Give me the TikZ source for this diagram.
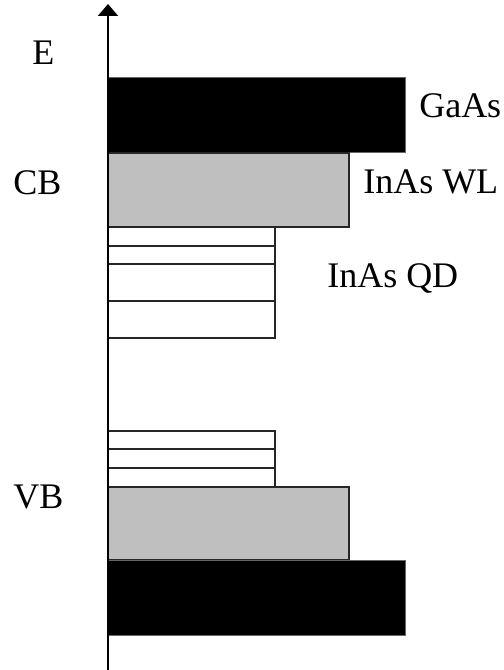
\documentclass[tikz,border=0pt]{standalone}
\usepackage{fontspec}
\setmainfont{Liberation Serif}
\usetikzlibrary{arrows.meta}
\begin{document}
\begin{tikzpicture}[x=0.75pt,y=-0.75pt,
  lbl/.style={anchor=base west,inner sep=0pt,font=\fontsize{27}{32}\selectfont},
  blackbar/.style={fill=black,draw=black!60,line width=0.75pt},
  greybar/.style={fill=black!25,draw=black!85,line width=1pt},
  qdbar/.style={fill=white,draw=black!85,line width=1pt},
  axisline/.style={line width=1.4pt,-{Triangle[width=15pt,length=9pt]}}]
\useasboundingbox (0,0) rectangle (503,670);
% bars
\draw[blackbar] (108,78) rectangle (405,153);
\draw[greybar] (108,153) rectangle (349,227);
\draw[qdbar] (108,227) rectangle (275,338);
\draw[qdbar] (108,246) -- (275,246);
\draw[qdbar] (108,264) -- (275,264);
\draw[qdbar] (108,301) -- (275,301);
\draw[qdbar] (108,431) rectangle (275,487);
\draw[qdbar] (108,449) -- (275,449);
\draw[qdbar] (108,468) -- (275,468);
\draw[greybar] (108,487) rectangle (349,560);
\draw[blackbar] (108,560) rectangle (405,635);
% axis
\coordinate (axb) at (108,670);
\coordinate (axt) at (108,4);
\draw[axisline] (axb) -- (axt);
% labels
\node[lbl] (e) at (32,65) {E};
\node[lbl] (cb) at (13,195) {CB};
\node[lbl] (vb) at (13,508) {VB};
\node[lbl] (gaas) at (419,118) {GaAs};
\node[lbl] (wl) at (363,194) {InAs WL};
\node[lbl] (qd) at (327,287) {InAs QD};
\end{tikzpicture}
\end{document}
